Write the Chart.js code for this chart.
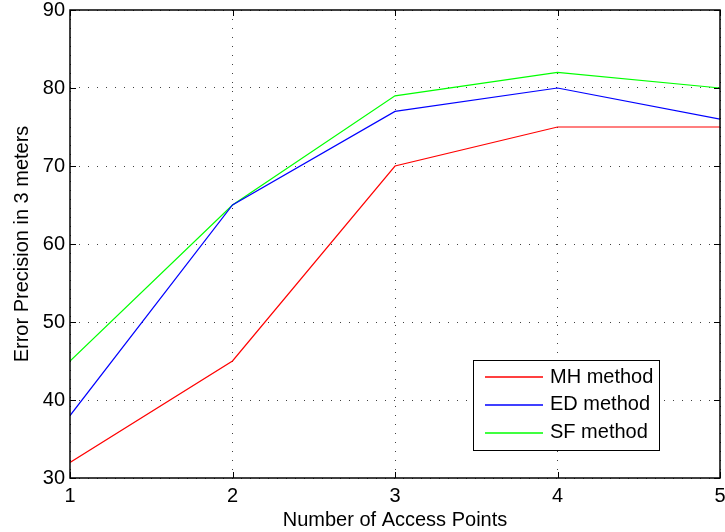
<!DOCTYPE html>
<html>
<head>
<meta charset="utf-8">
<script src="https://cdn.jsdelivr.net/npm/chart.js@4.4.0/dist/chart.umd.min.js"></script>
<style>
    html, body { margin: 0; padding: 0; background: #fff; }
    #wrap { width: 725px; height: 532px; }
</style>
</head>
<body>
<div id="wrap"><canvas id="errChart" width="725" height="532"></canvas></div>
<script>
// data
const accessPoints = [1, 2, 3, 4, 5];
const mhValues = [32, 45, 70, 75, 75];
const edValues = [38, 65, 77, 80, 76];
const sfValues = [45, 65, 79, 82, 80];
const seriesNames = ["MH method", "ED method", "SF method"];
const seriesColors = ["#ff0000", "#0000ff", "#00ff00"];

const FONT = "'Liberation Sans', Arial, sans-serif";

function toPoints(vals) {
    return accessPoints.map((x, i) => ({ x: x, y: vals[i] }));
}

// box, inward ticks and legend, matlab style
const boxPlugin = {
    id: "boxPlugin",
    afterDraw(chart) {
        const ctx = chart.ctx;
        const a = chart.chartArea;
        const xs = chart.scales.x;
        const ys = chart.scales.y;
        ctx.save();
        ctx.strokeStyle = "#000";
        ctx.lineWidth = 1.5;
        ctx.setLineDash([]);
        ctx.strokeRect(a.left, a.top, a.right - a.left, a.bottom - a.top);

        ctx.lineWidth = 1;
        const tl = 6;
        ctx.beginPath();
        xs.ticks.forEach(t => {
            const px = Math.round(xs.getPixelForValue(t.value)) + 0.5;
            ctx.moveTo(px, a.bottom); ctx.lineTo(px, a.bottom - tl);
            ctx.moveTo(px, a.top); ctx.lineTo(px, a.top + tl);
        });
        ys.ticks.forEach(t => {
            const py = Math.round(ys.getPixelForValue(t.value)) + 0.5;
            ctx.moveTo(a.left, py); ctx.lineTo(a.left + tl, py);
            ctx.moveTo(a.right, py); ctx.lineTo(a.right - tl, py);
        });
        ctx.stroke();

        // legend box
        const lx = 473, ly = 360, lw = 186, lh = 90;
        ctx.fillStyle = "#fff";
        ctx.fillRect(lx, ly, lw, lh);
        ctx.strokeStyle = "#000";
        ctx.lineWidth = 1;
        ctx.strokeRect(lx + 0.5, ly + 0.5, lw, lh);
        ctx.font = "20px " + FONT;
        ctx.textBaseline = "middle";
        chart.data.datasets.forEach((ds, i) => {
            const yy = ly + 17 + i * 27.8;
            ctx.strokeStyle = seriesColors[i];
            ctx.lineWidth = 1.3;
            ctx.beginPath();
            ctx.moveTo(lx + 12, Math.round(yy));
            ctx.lineTo(lx + 70, Math.round(yy));
            ctx.stroke();
            ctx.fillStyle = "#000";
            ctx.fillText(ds.label, lx + 77, yy);
        });
        ctx.restore();
    }
};

const errChart = new Chart(document.getElementById("errChart"), {
    type: "line",
    data: {
        datasets: [
            { label: seriesNames[0], data: toPoints(mhValues), borderColor: seriesColors[0] },
            { label: seriesNames[1], data: toPoints(edValues), borderColor: seriesColors[1] },
            { label: seriesNames[2], data: toPoints(sfValues), borderColor: seriesColors[2] }
        ]
    },
    options: {
        responsive: false,
        animation: false,
        devicePixelRatio: 1,
        layout: { padding: { top: 10, right: 5, left: 0, bottom: 0 } },
        elements: {
            line: { borderWidth: 1.2, tension: 0, fill: false },
            point: { radius: 0, hoverRadius: 0 }
        },
        plugins: {
            legend: { display: false },
            tooltip: { enabled: false }
        },
        scales: {
            x: {
                type: "linear",
                min: 1,
                max: 5,
                afterFit(scale) {
                    scale.height = 54;
                    scale.paddingLeft = 0;
                    scale.paddingRight = 0;
                },
                ticks: { stepSize: 1, color: "#000", font: { family: FONT, size: 20 }, padding: 6, maxRotation: 0 },
                grid: { color: "rgba(0,0,0,0.75)", lineWidth: 1, drawTicks: false },
                border: { display: false, dash: [1, 8] },
                title: { display: true, text: "Number of Access Points", color: "#000", font: { family: FONT, size: 20 }, padding: { top: 0, bottom: 0 } }
            },
            y: {
                min: 30,
                max: 90,
                afterFit(scale) {
                    scale.width = 70;
                    scale.paddingTop = 0;
                    scale.paddingBottom = 0;
                },
                ticks: { stepSize: 10, color: "#000", font: { family: FONT, size: 20 }, padding: 5 },
                grid: { color: "rgba(0,0,0,0.75)", lineWidth: 1, drawTicks: false },
                border: { display: false, dash: [1, 8] },
                title: { display: true, text: "Error Precision in 3 meters", color: "#000", font: { family: FONT, size: 20 }, padding: { top: 10, bottom: 0 } }
            }
        }
    },
    plugins: [boxPlugin]
});
</script>
</body>
</html>
